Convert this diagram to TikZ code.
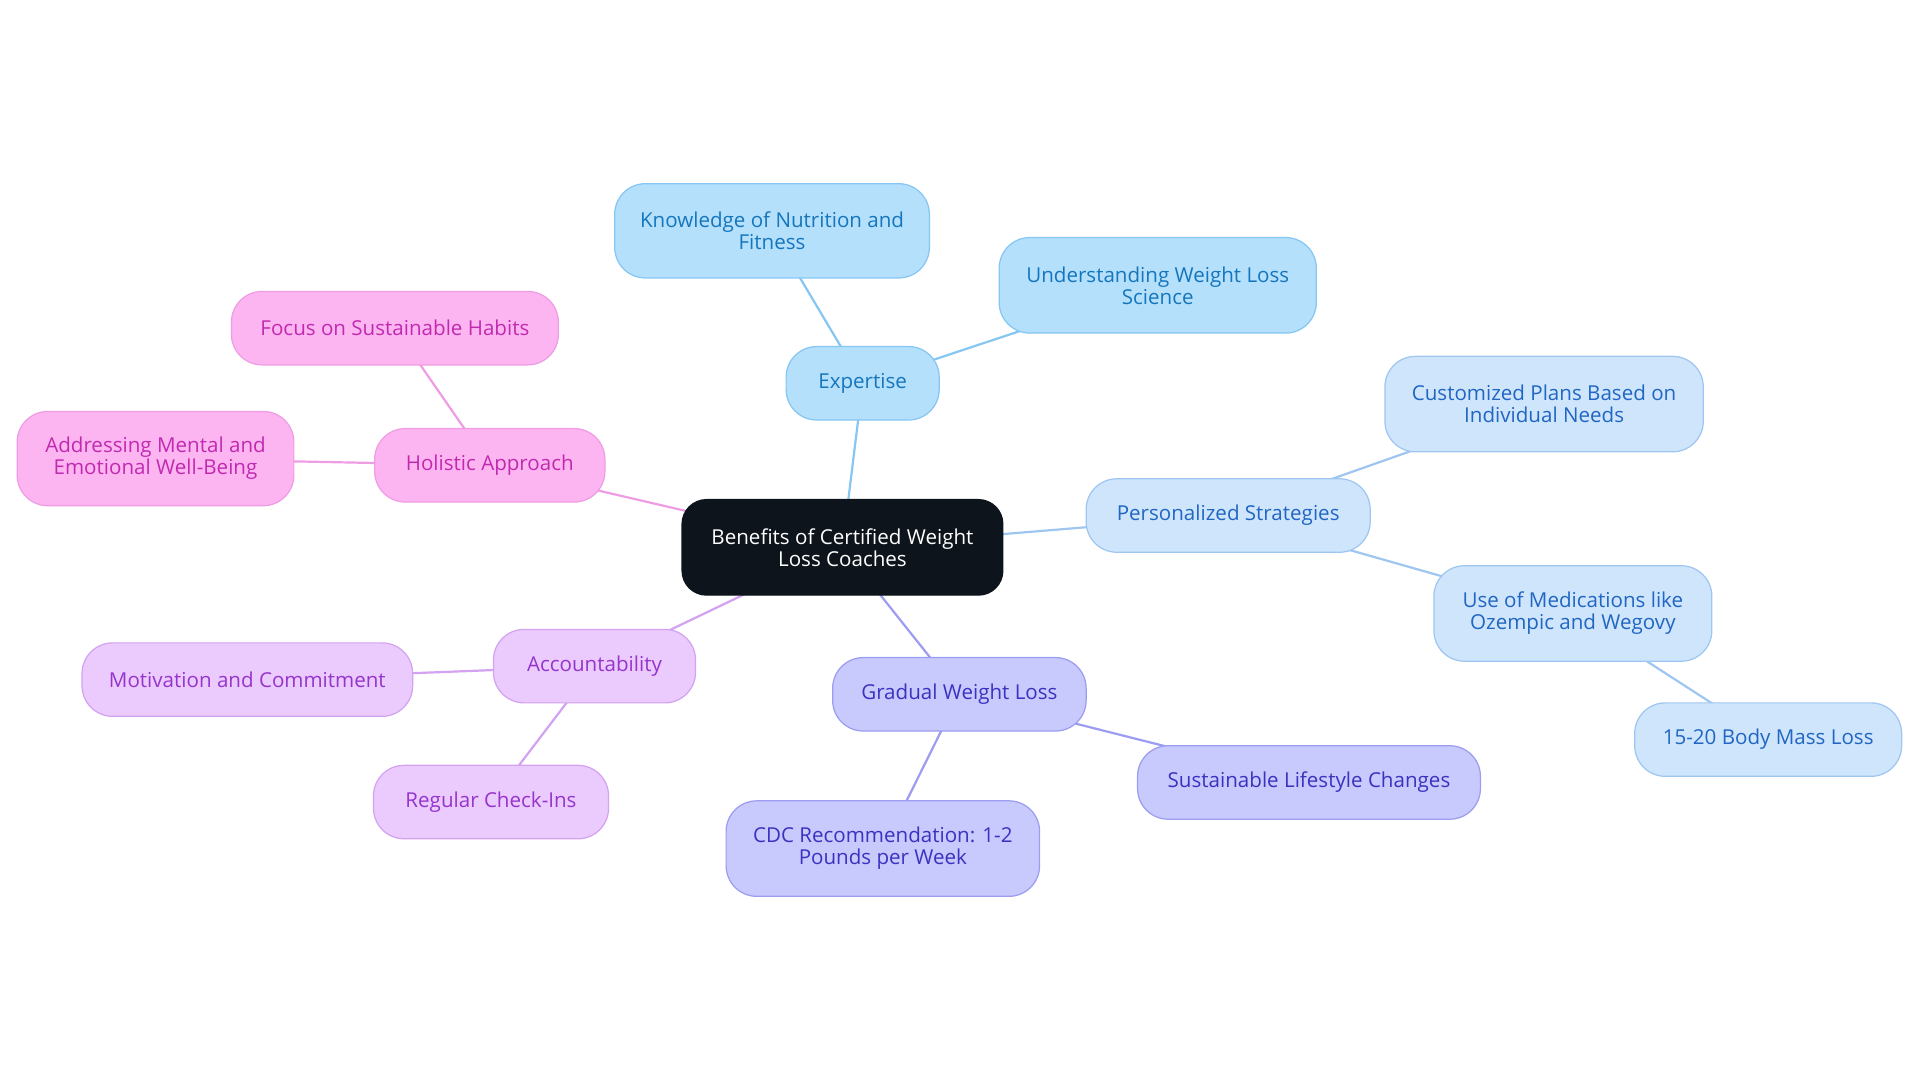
\documentclass[tikz,border=0pt]{standalone}
\usepackage{fontspec}
\setmainfont{Open Sans}
\usetikzlibrary{backgrounds}
\definecolor{expF}{HTML}{B5E0FC}\definecolor{expD}{HTML}{86C6F2}\definecolor{expT}{HTML}{1576BC}
\definecolor{perF}{HTML}{CFE5FC}\definecolor{perD}{HTML}{9EC6F0}\definecolor{perT}{HTML}{2066C2}
\definecolor{holF}{HTML}{FDB5F1}\definecolor{holD}{HTML}{EE9DE4}\definecolor{holT}{HTML}{C02AB0}
\definecolor{accF}{HTML}{EBCAFD}\definecolor{accD}{HTML}{D3A2F1}\definecolor{accT}{HTML}{9535CC}
\definecolor{graF}{HTML}{C8C9FD}\definecolor{graD}{HTML}{9C9CF0}\definecolor{graT}{HTML}{3A32C0}
\definecolor{cenF}{HTML}{0D141B}
\tikzset{
  x=1pt,y=-1pt,
  box/.style={draw, line width=1pt, rounded corners=25pt, align=center, inner sep=0pt,
    font=\fontsize{16.8}{18}\selectfont},
  exp/.style={box, fill=expF, draw=expD, text=expT},
  per/.style={box, fill=perF, draw=perD, text=perT},
  hol/.style={box, fill=holF, draw=holD, text=holT},
  acc/.style={box, fill=accF, draw=accD, text=accT},
  gra/.style={box, fill=graF, draw=graD, text=graT},
  cen/.style={box, fill=cenF, draw=cenF, text=white, rounded corners=20pt},
  sz/.style 2 args={minimum width=#1pt, minimum height=#2pt},
  link/.style={line width=1.8pt},
}
\begin{document}
\begin{tikzpicture}
\useasboundingbox (0,0) rectangle (1568,884.4);
\node[cen, sz={262}{78}] (c) at (688,447) {Benefits of Certified Weight\\Loss Coaches};

\node[exp, sz={125}{60}] (e) at (704.5,313) {Expertise};
\node[exp, sz={257}{77}] (e1) at (630.5,188.5) {Knowledge of Nutrition and\\Fitness};
\node[exp, sz={259}{78}] (e2) at (945.5,233) {Understanding Weight Loss\\Science};

\node[hol, sz={188}{60}] (h) at (400,380) {Holistic Approach};
\node[hol, sz={267}{60}] (h1) at (322.5,268) {Focus on Sustainable Habits};
\node[hol, sz={226}{77}] (h2) at (127,374.5) {Addressing Mental and\\Emotional Well-Being};

\node[per, sz={232}{60}] (p) at (1003,421) {Personalized Strategies};
\node[per, sz={260}{78}] (p1) at (1261,330) {Customized Plans Based on\\Individual Needs};
\node[per, sz={227}{78}] (p2) at (1284.5,501) {Use of Medications like\\Ozempic and Wegovy};
\node[per, sz={218}{60}] (p3) at (1444,604) {15-20 Body Mass Loss};

\node[acc, sz={165}{60}] (a) at (485.5,544) {Accountability};
\node[acc, sz={270}{60}] (a1) at (202,555) {Motivation and Commitment};
\node[acc, sz={192}{60}] (a2) at (401,655) {Regular Check-Ins};

\node[gra, sz={207}{60}] (g) at (783.5,567) {Gradual Weight Loss};
\node[gra, sz={280}{60}] (g1) at (1069,639) {Sustainable Lifestyle Changes};
\node[gra, sz={256}{78}] (g2) at (721,693) {CDC Recommendation: 1-2\\Pounds per Week};

\begin{scope}[on background layer]
\draw[link, expD] (c.center) -- (e.center);
\draw[link, expD] (e.center) -- (e1.center);
\draw[link, expD] (e.center) -- (e2.center);
\draw[link, holD] (c.center) -- (h.center);
\draw[link, holD] (h.center) -- (h1.center);
\draw[link, holD] (h.center) -- (h2.center);
\draw[link, perD] (c.center) -- (p.center);
\draw[link, perD] (p.center) -- (p1.center);
\draw[link, perD] (p.center) -- (p2.center);
\draw[link, perD] (p2.center) -- (p3.center);
\draw[link, accD] (c.center) -- (a.center);
\draw[link, accD] (a.center) -- (a1.center);
\draw[link, accD] (a.center) -- (a2.center);
\draw[link, graD] (c.center) -- (g.center);
\draw[link, graD] (g.center) -- (g1.center);
\draw[link, graD] (g.center) -- (g2.center);
\end{scope}
\end{tikzpicture}
\end{document}
